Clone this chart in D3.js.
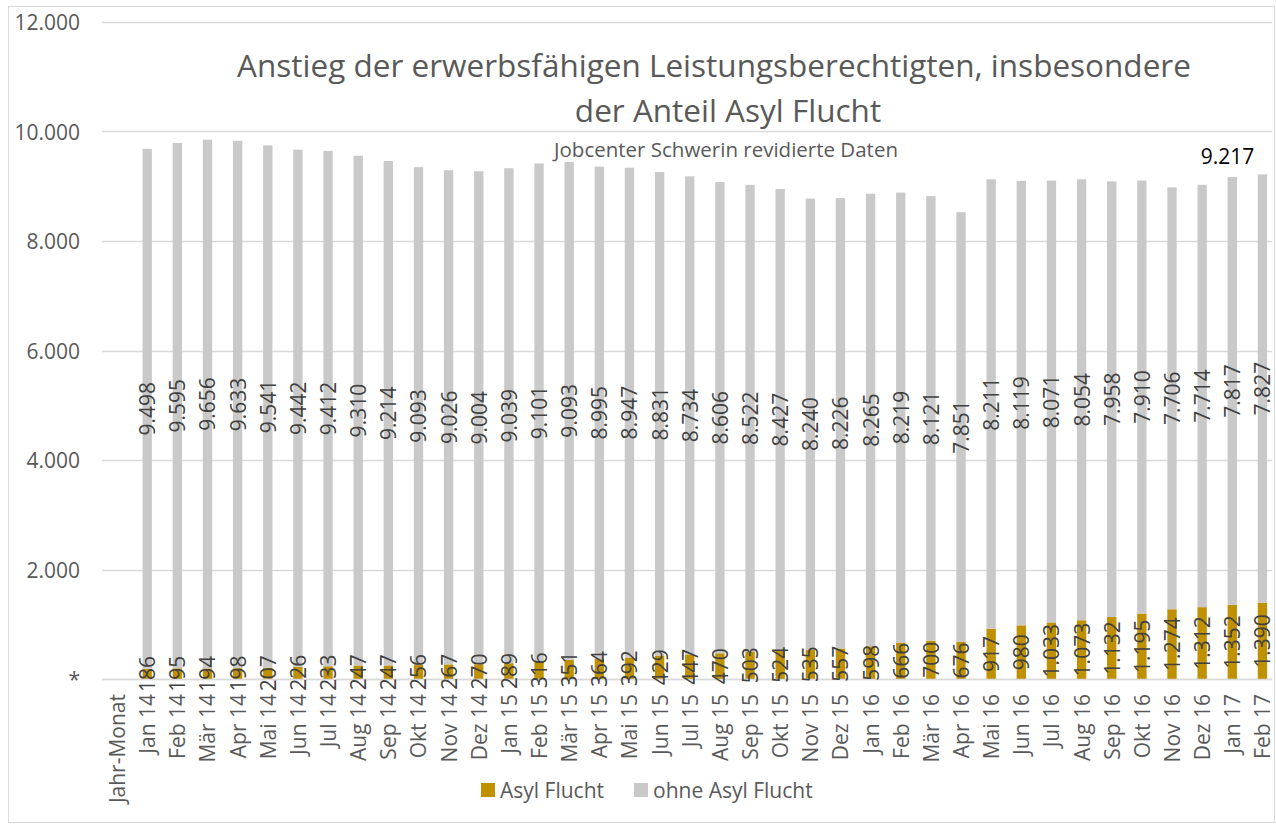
<!DOCTYPE html>
<html><head><meta charset="utf-8">
<script src="https://cdn.jsdelivr.net/npm/d3@7"></script>
<style>body{margin:0;background:#fff}svg{display:block}text{font-family:"Open Sans","Noto Sans",sans-serif}</style>
</head><body><svg id="c" width="1276" height="825"></svg>
<script>
const categories = ["Jahr-Monat","Jan 14","Feb 14","Mär 14","Apr 14","Mai 14","Jun 14","Jul 14","Aug 14","Sep 14","Okt 14","Nov 14","Dez 14","Jan 15","Feb 15","Mär 15","Apr 15","Mai 15","Jun 15","Jul 15","Aug 15","Sep 15","Okt 15","Nov 15","Dez 15","Jan 16","Feb 16","Mär 16","Apr 16","Mai 16","Jun 16","Jul 16","Aug 16","Sep 16","Okt 16","Nov 16","Dez 16","Jan 17","Feb 17"];
const asylFlucht = [null,186,195,194,198,207,226,233,247,247,256,267,270,289,316,351,364,392,429,447,470,503,524,535,557,598,666,700,676,917,980,1033,1073,1132,1195,1274,1312,1352,1390];
const ohneAsylFlucht = [null,9498,9595,9656,9633,9541,9442,9412,9310,9214,9093,9026,9004,9039,9101,9093,8995,8947,8831,8734,8606,8522,8427,8240,8226,8265,8219,8121,7851,8211,8119,8071,8054,7958,7910,7706,7714,7817,7827];
const yTicks = [0,2000,4000,6000,8000,10000,12000];
const yTickLabels = ["*","2.000","4.000","6.000","8.000","10.000","12.000"];
const seriesNames = ["Asyl Flucht","ohne Asyl Flucht"];
const titleLines = ["Anstieg der erwerbsfähigen Leistungsberechtigten, insbesondere","der Anteil Asyl Flucht"];
const subtitle = "Jobcenter Schwerin revidierte Daten";

const colors = ["#BF9000","#C9C9C9"];
const fmt = v => d3.format(",")(v).replace(/,/g,".");
const svg = d3.select("#c");

svg.append("rect").attr("x",8.5).attr("y",6.5).attr("width",1266).attr("height",816)
  .attr("fill","#fff").attr("stroke","#D9D9D9");

const x = d3.scaleBand().domain(categories).range([102,1277.5]).paddingInner(0.69).paddingOuter(0.345);
const y = d3.scaleLinear().domain([0,12000]).range([679,22]);

// gridlines
svg.append("g").selectAll("line").data(yTicks).join("line")
  .attr("x1",102).attr("x2",1272).attr("y1",d=>Math.round(y(d))+0.5).attr("y2",d=>Math.round(y(d))+0.5)
  .attr("stroke","#D9D9D9").attr("stroke-width",1.5);

// y tick labels
svg.append("g").selectAll("text").data(yTicks).join("text")
  .attr("x",80).attr("y",d=>y(d)).attr("text-anchor","end").attr("dominant-baseline","central")
  .attr("font-size",21).attr("fill","#595959").text((d,i)=>yTickLabels[i]);

// title
const titleX = [714,728], titleY = [77,122];
svg.append("g").selectAll("text").data(titleLines).join("text")
  .attr("x",(d,i)=>titleX[i]).attr("y",(d,i)=>titleY[i]).attr("text-anchor","middle")
  .attr("font-size",31.5).attr("fill","#595959").text(d=>d);
svg.append("text").attr("x",726).attr("y",157).attr("text-anchor","middle")
  .attr("font-size",20.5).attr("fill","#595959").text(subtitle);

const rows = categories.map((c,i)=>({c, a:asylFlucht[i], o:ohneAsylFlucht[i]})).filter(d=>d.a!=null);
const stack = rows.map(d=>({c:d.c, a:d.a, o:d.o, s:[[0,d.a],[d.a,d.a+d.o]]}));

const bw = x.bandwidth();
[0,1].forEach(k=>{
  svg.append("g").selectAll("rect").data(stack).join("rect")
    .attr("x",d=>x(d.c)).attr("width",bw)
    .attr("y",d=>y(d.s[k][1])).attr("height",d=>y(d.s[k][0])-y(d.s[k][1]))
    .attr("fill",colors[k]);
});

// baseline
svg.append("line").attr("x1",102).attr("x2",1272).attr("y1",679.5).attr("y2",679.5).attr("stroke","#D9D9D9").attr("stroke-width",1.5);

// data labels
[0,1].forEach(k=>{
  svg.append("g").selectAll("text").data(stack).join("text")
    .attr("transform",d=>`translate(${x(d.c)+bw/2},${y((d.s[k][0]+d.s[k][1])/2)}) rotate(-90)`)
    .attr("text-anchor","middle").attr("dominant-baseline","central")
    .attr("font-size",21).attr("fill","#404040").text(d=>fmt(k===0?d.a:d.o));
});

// x labels
svg.append("g").selectAll("text").data(categories).join("text")
  .attr("transform",d=>`translate(${x(d)+bw/2},694) rotate(-90)`)
  .attr("text-anchor","end").attr("dominant-baseline","central")
  .attr("font-size",21).attr("fill","#595959").text(d=>d);

// total label
const last = stack[stack.length-1];
svg.append("text").attr("x",x(last.c)+bw/2-35).attr("y",164).attr("text-anchor","middle")
  .attr("font-family","'Liberation Sans',Arial,sans-serif").attr("font-size",21).attr("fill","#000")
  .text(fmt(last.a+last.o));

// legend
const lg = svg.append("g");
const lx = [481,634];
seriesNames.forEach((n,i)=>{
  lg.append("rect").attr("x",lx[i]).attr("y",783).attr("width",14).attr("height",14).attr("fill",colors[i]);
  lg.append("text").attr("x",lx[i]+19).attr("y",790).attr("dominant-baseline","central")
    .attr("font-size",21).attr("fill","#595959").text(n);
});
</script></body></html>
